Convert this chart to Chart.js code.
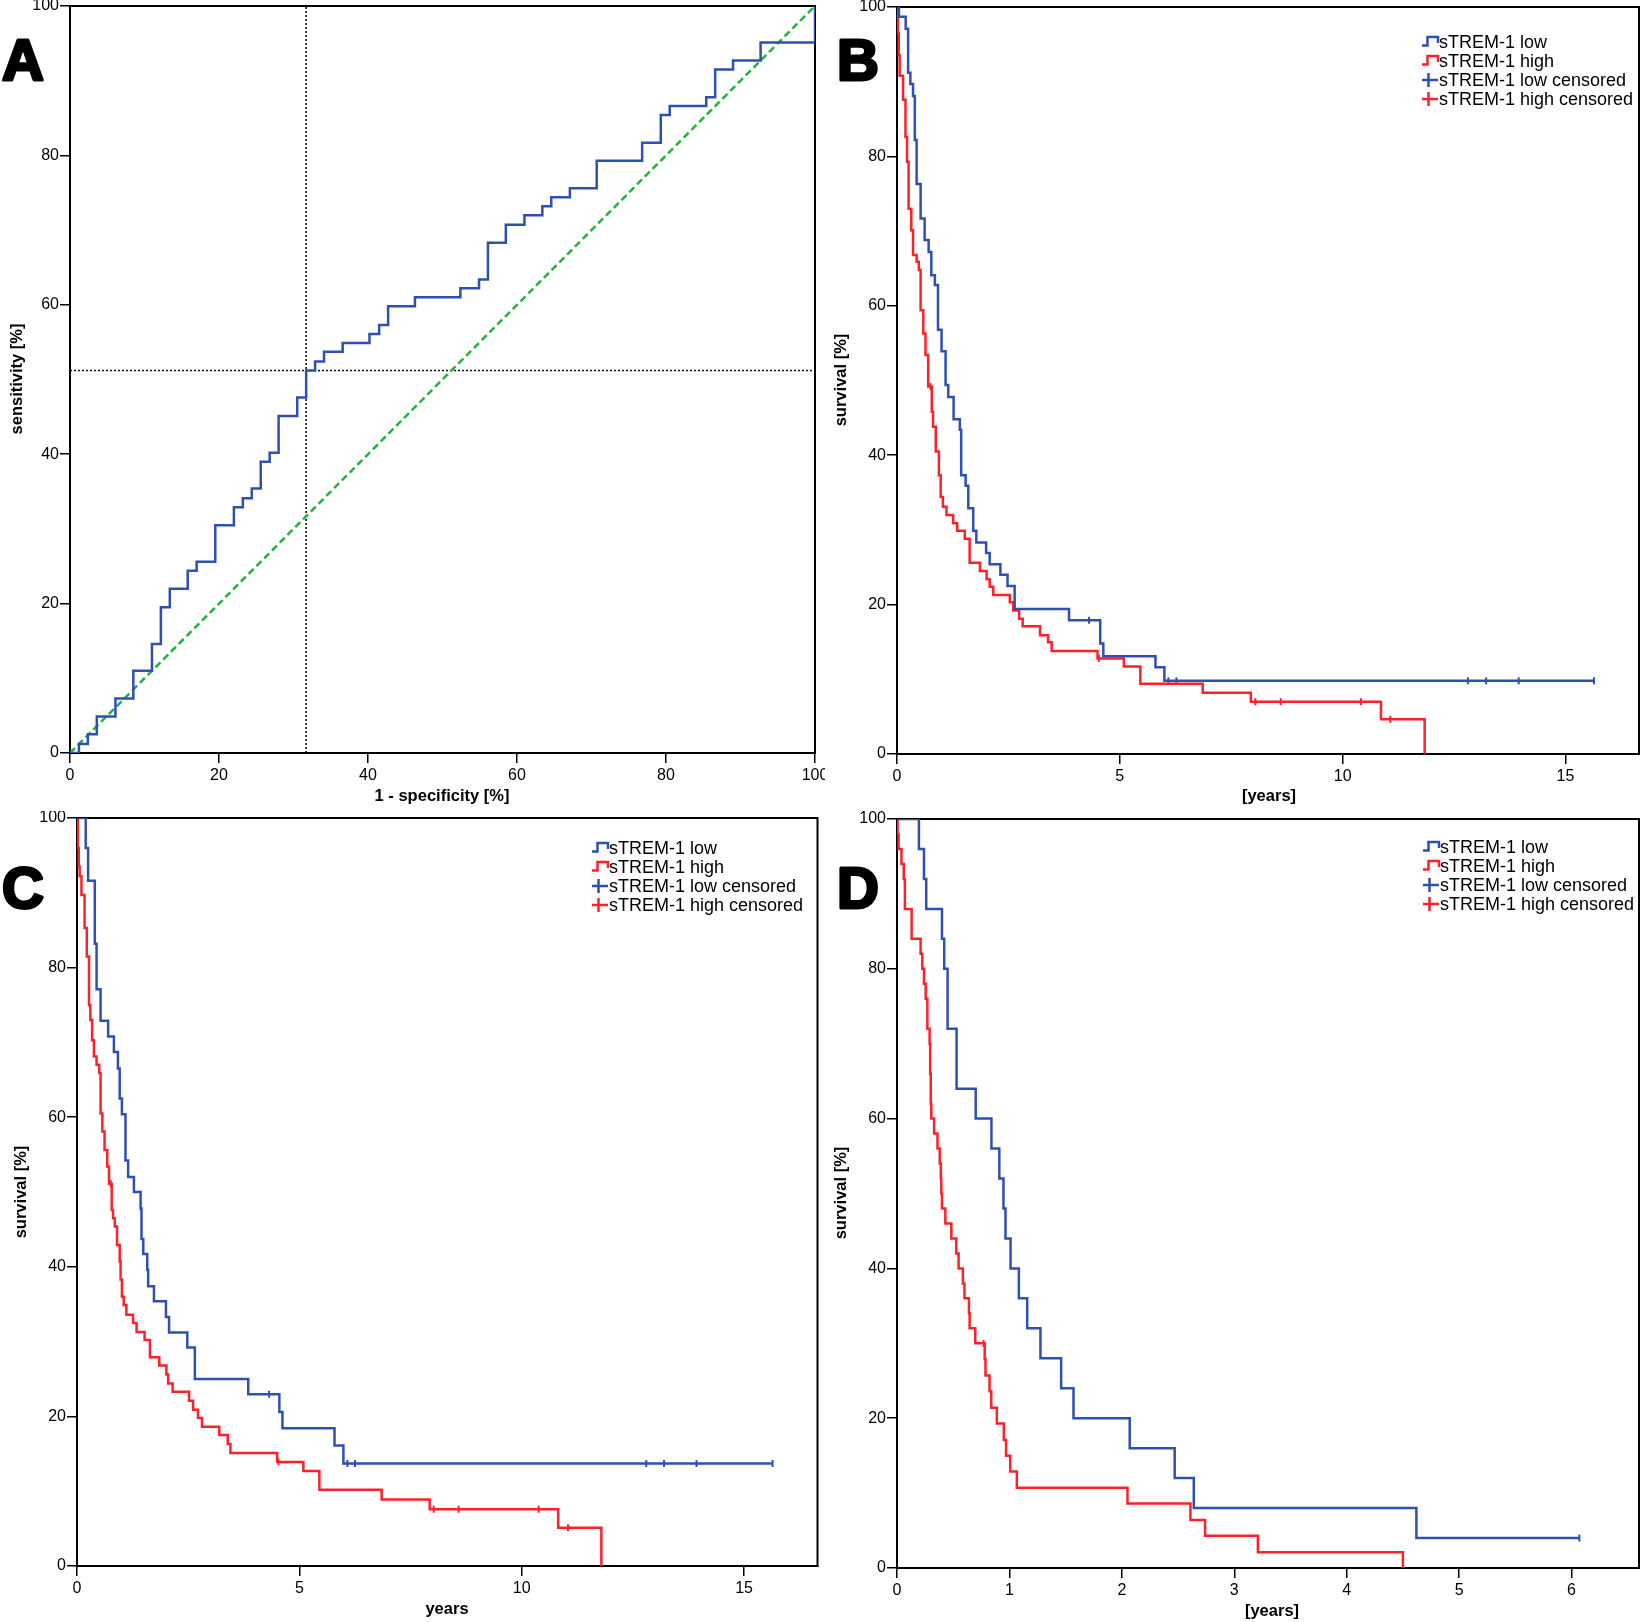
<!DOCTYPE html>
<html>
<head>
<meta charset="utf-8">
<script src="https://cdn.jsdelivr.net/npm/chart.js@4.4.1/dist/chart.umd.min.js"></script>
<style>
  html, body { margin: 0; padding: 0; background: #fff; }
  #wrap { position: relative; width: 1650px; height: 1622px; background: #fff; }
  #wrap canvas { position: absolute; }
</style>
</head>
<body>
<div id="wrap">
  <canvas id="chartA" width="825" height="811" style="left:0;top:0;width:825px;height:811px"></canvas>
  <canvas id="chartB" width="825" height="811" style="left:825px;top:0;width:825px;height:811px"></canvas>
  <canvas id="chartC" width="825" height="811" style="left:0;top:811px;width:825px;height:811px"></canvas>
  <canvas id="chartD" width="825" height="811" style="left:825px;top:811px;width:825px;height:811px"></canvas>
</div>
<script>
// ---- data ----

// A: ROC curve, [1 - specificity %, sensitivity %]
var rocSteps = [[0,0],[1.2,1.2],[2.4,2.5],[3.6,4.9],[6.1,7.3],[8.5,11.0],[11.0,14.6],[12.2,19.5],
  [13.4,22.0],[15.8,24.4],[17.0,25.6],[19.5,30.5],[22.0,32.9],[23.2,34.1],[24.4,35.4],[25.6,39.0],
  [26.8,40.2],[28.0,45.1],[30.5,47.6],[31.7,51.2],[32.9,52.4],[34.1,53.7],[36.6,54.9],[40.2,56.1],
  [41.5,57.3],[42.7,59.8],[46.3,61.0],[52.4,62.2],[54.9,63.4],[56.1,68.3],[58.5,70.7],[61.0,72.0],
  [63.4,73.2],[64.6,74.4],[67.1,75.6],[70.7,79.3],[76.8,81.7],[79.3,85.4],[80.5,86.6],[85.4,87.8],
  [86.6,91.5],[89.0,92.7],[92.7,95.1],[100,95.1],[100,100]];
var chanceLine = [[0,0],[100,100]];
var cutoffX = 31.7;
var cutoffY = 51.2;

// B: survival [%] over years
var bLow = [[0,100],[0.045,98.7],[0.195,97.1],[0.25,91.2],[0.30,89.7],[0.36,88.1],[0.40,82.2],[0.44,76.3],
  [0.53,71.7],[0.62,68.8],[0.71,67.2],[0.77,64.1],[0.85,62.8],[0.92,56.8],[1.0,53.9],[1.09,49.4],
  [1.15,47.8],[1.27,44.8],[1.41,43.4],[1.44,37.3],[1.54,35.9],[1.60,32.9],[1.71,29.9],[1.78,28.3],
  [2.0,26.9],[2.08,25.4],[2.32,24.0],[2.48,22.5],[2.64,19.4],[3.86,17.9],[4.56,14.8],[4.63,13.1],
  [5.80,11.6],[6.0,9.8],[15.64,9.8]];
var bHigh = [[0,100],[0.02,96.5],[0.04,93.5],[0.06,90.8],[0.135,87.6],[0.19,82.6],[0.225,79.3],[0.26,73.0],
  [0.32,70.1],[0.36,66.8],[0.44,65.9],[0.49,64.8],[0.53,59.4],[0.59,56.3],[0.64,53.4],[0.70,49.2],
  [0.78,45.8],[0.81,43.8],[0.87,40.5],[0.94,37.3],[0.98,34.4],[1.03,33.1],[1.11,32.0],[1.26,30.9],
  [1.35,29.9],[1.52,28.8],[1.63,25.6],[1.86,24.5],[2.01,23.4],[2.08,22.4],[2.16,21.3],[2.53,20.3],
  [2.61,19.2],[2.74,18.1],[2.82,17.1],[3.21,15.9],[3.39,14.95],[3.47,13.8],[4.50,12.8],[5.09,11.7],
  [5.46,9.4],[6.86,8.2],[7.94,7.0],[10.86,4.64],[11.84,0]];
var bLowCensored = [[4.31,17.9],[6.09,9.8],[6.27,9.8],[12.81,9.8],[13.22,9.8],[13.95,9.8],[15.64,9.8]];
var bHighCensored = [[0.75,49.2],[4.53,12.8],[8.04,7.0],[8.61,7.0],[10.41,7.0],[11.07,4.64]];

// C: survival [%] over years
var cLow = [[0,100],[0.196,96.0],[0.25,91.6],[0.40,83.2],[0.44,77.1],[0.53,72.9],[0.70,70.8],[0.83,68.7],
  [0.92,66.5],[0.96,62.5],[1.01,60.4],[1.09,54.2],[1.15,52.0],[1.28,50.0],[1.43,47.8],[1.45,43.7],
  [1.49,41.7],[1.58,39.6],[1.60,37.4],[1.73,35.4],[2.0,33.3],[2.07,31.2],[2.48,29.2],[2.65,25.0],
  [3.85,22.95],[4.55,20.6],[4.62,18.4],[5.79,16.1],[5.99,13.7],[15.64,13.7]];
var cHigh = [[0,100],[0.02,96.0],[0.04,93.5],[0.06,92.2],[0.10,89.7],[0.17,85.3],[0.22,81.5],[0.27,75.0],
  [0.30,73.0],[0.34,70.3],[0.38,68.1],[0.44,67.0],[0.50,65.9],[0.53,60.5],[0.57,58.1],[0.62,55.6],
  [0.68,53.4],[0.72,51.1],[0.78,47.6],[0.81,46.5],[0.85,45.4],[0.90,42.9],[0.96,40.7],[0.98,38.3],
  [1.01,36.0],[1.05,34.9],[1.11,33.6],[1.26,32.5],[1.34,31.3],[1.52,30.2],[1.64,27.9],[1.85,26.8],
  [2.01,25.6],[2.05,24.4],[2.15,23.3],[2.52,22.1],[2.61,20.9],[2.72,19.8],[2.81,18.6],[3.20,17.5],
  [3.39,16.3],[3.45,15.1],[4.50,13.9],[5.09,12.7],[5.45,10.2],[6.85,8.9],[7.93,7.6],[10.82,5.1],[11.79,0]];
var cLowCensored = [[4.32,22.95],[6.08,13.7],[6.25,13.7],[12.8,13.7],[13.2,13.7],[13.93,13.7],[15.64,13.7]];
var cHighCensored = [[0.76,51.1],[4.53,13.9],[8.02,7.6],[8.58,7.6],[10.38,7.6],[11.04,5.1]];

// D: survival [%] over years
var dLow = [[0,100],[0.195,96],[0.24,92],[0.26,88],[0.40,84],[0.42,80],[0.45,72],[0.53,64],[0.70,60],
  [0.84,56],[0.91,52],[0.947,48],[0.965,44],[1.01,40],[1.084,36],[1.158,32],[1.276,28],[1.46,24],
  [1.57,20],[2.07,16],[2.47,12],[2.64,8],[4.62,4],[6.07,4]];
var dHigh = [[0,100],[0.005,98],[0.014,96],[0.04,94],[0.06,92],[0.07,88],[0.13,84],[0.21,82],[0.225,80],
  [0.24,78],[0.255,76],[0.27,72],[0.29,70],[0.295,66],[0.30,62],[0.305,60],[0.33,58],[0.36,56],
  [0.38,54],[0.39,52],[0.394,50],[0.40,48],[0.43,46],[0.483,44],[0.527,42],[0.548,40],[0.586,38],
  [0.60,36],[0.64,34],[0.646,32],[0.696,30],[0.78,27.9],[0.787,25.7],[0.823,23.6],[0.838,21.4],
  [0.888,19.3],[0.95,17.1],[0.97,15.0],[1.007,12.9],[1.066,10.7],[2.05,8.6],[2.61,6.4],[2.74,4.3],
  [3.21,2.1],[4.50,0]];
var dLowCensored = [[6.07,4]];
var dHighCensored = [[0.77,30]];

var groupNames = ['sTREM-1 low', 'sTREM-1 high', 'sTREM-1 low censored', 'sTREM-1 high censored'];

// ---- styling ----
var BLUE = '#2f4fb3';
var RED = '#fe2129';
var GREEN = '#22b33c';

Chart.defaults.font.family = "'Liberation Sans', Arial, sans-serif";
Chart.defaults.color = '#000';

function pts(arr) {
    return arr.map(function (p) { return { x: p[0], y: p[1] }; });
}

function stepLine(label, data, color) {
    return {
        label: label, data: pts(data), showLine: true, stepped: 'before',
        borderColor: color, backgroundColor: color, borderWidth: 2.5,
        pointRadius: 0, pointHoverRadius: 0, fill: false
    };
}

function plainLine(label, data, color, width, dash) {
    return {
        label: label, data: pts(data), showLine: true,
        borderColor: color, backgroundColor: color, borderWidth: width, borderDash: dash,
        pointRadius: 0, pointHoverRadius: 0, fill: false
    };
}

function censorMarks(label, data, color) {
    return {
        label: label, data: pts(data), showLine: false,
        borderColor: color, backgroundColor: color, borderWidth: 2,
        pointStyle: 'line', rotation: 90, pointRadius: 3.5, pointHoverRadius: 3.5
    };
}

function scales(box) {
    return {
        x: {
            type: 'linear', min: 0, max: box.xMax,
            ticks: { stepSize: box.xStep, includeBounds: false, autoSkip: false, maxRotation: 0,
                     padding: 3, color: '#000', font: { size: 16 } },
            grid: { drawOnChartArea: false, drawTicks: true, tickLength: 10, color: '#000', lineWidth: 1.5 },
            border: { display: true, color: '#000', width: 2 },
            afterFit: function (s) { s.height = box.xh; s.paddingLeft = 0; s.paddingRight = 0; }
        },
        y: {
            type: 'linear', min: 0, max: 100,
            ticks: { stepSize: 20, autoSkip: false, padding: 1, color: '#000', font: { size: 16 } },
            grid: { drawOnChartArea: false, drawTicks: true, tickLength: 10, color: '#000', lineWidth: 1.5 },
            border: { display: true, color: '#000', width: 2 },
            afterFit: function (s) { s.width = box.yw; s.paddingTop = 0; s.paddingBottom = 0; }
        }
    };
}

// frame, panel letter, axis titles and legend
function decor(d) {
    return {
        id: 'decor',
        beforeDatasetsDraw: function (chart) {
            var ctx = chart.ctx, a = chart.chartArea;
            ctx.save();
            ctx.strokeStyle = '#000';
            ctx.lineWidth = 2;
            ctx.strokeRect(a.left, a.top, a.right - a.left, a.bottom - a.top);
            ctx.restore();
        },
        afterDraw: function (chart) {
            var ctx = chart.ctx;
            ctx.save();
            ctx.fillStyle = '#000';
            ctx.strokeStyle = '#000';
            ctx.font = "bold 58px 'Liberation Sans', Arial, sans-serif";
            ctx.textAlign = 'center';
            ctx.textBaseline = 'alphabetic';
            ctx.lineWidth = 3;
            ctx.lineJoin = 'round';
            ctx.strokeText(d.letter[0], d.letter[1], d.letter[2]);
            ctx.fillText(d.letter[0], d.letter[1], d.letter[2]);

            ctx.font = "bold 16.5px 'Liberation Sans', Arial, sans-serif";
            ctx.textBaseline = 'middle';
            ctx.fillText(d.xTitle[0], d.xTitle[1], d.xTitle[2]);
            ctx.save();
            ctx.translate(d.yTitle[1], d.yTitle[2]);
            ctx.rotate(-Math.PI / 2);
            ctx.fillText(d.yTitle[0], 0, 0);
            ctx.restore();

            if (d.legend) {
                ctx.font = "18px 'Liberation Sans', Arial, sans-serif";
                ctx.textAlign = 'left';
                ctx.lineWidth = 2.5;
                ctx.lineJoin = 'miter';
                chart.data.datasets.forEach(function (ds, i) {
                    var y = d.legend.y + i * d.legend.dy, x0 = d.legend.x;
                    ctx.strokeStyle = ds.borderColor;
                    ctx.beginPath();
                    if (ds.showLine) {
                        ctx.moveTo(x0, y + 3.5);
                        ctx.lineTo(x0 + 5.5, y + 3.5);
                        ctx.lineTo(x0 + 5.5, y - 5);
                        ctx.lineTo(x0 + 16, y - 5);
                        ctx.lineTo(x0 + 16, y + 1);
                    } else {
                        ctx.moveTo(x0, y);
                        ctx.lineTo(x0 + 16, y);
                        ctx.moveTo(x0 + 6.5, y - 7);
                        ctx.lineTo(x0 + 6.5, y + 7);
                    }
                    ctx.stroke();
                    ctx.fillStyle = '#000';
                    ctx.fillText(ds.label, x0 + 17, y + 1);
                });
            }
            ctx.restore();
        }
    };
}

function makePanel(id, datasets, box, d) {
    var ctx = document.getElementById(id).getContext('2d');
    return new Chart(ctx, {
        type: 'scatter',
        data: { datasets: datasets },
        options: {
            responsive: false,
            animation: false,
            events: [],
            layout: { padding: { top: box.top, right: box.right, left: 0, bottom: 0 } },
            plugins: { legend: { display: false }, tooltip: { enabled: false }, title: { display: false } },
            scales: scales(box)
        },
        plugins: [decor(d)]
    });
}

function kmSets(low, high, lowC, highC) {
    return [
        stepLine(groupNames[0], low, BLUE),
        stepLine(groupNames[1], high, RED),
        censorMarks(groupNames[2], lowC, BLUE),
        censorMarks(groupNames[3], highC, RED)
    ];
}

makePanel('chartA', [
    stepLine('ROC', rocSteps, BLUE),
    plainLine('reference', chanceLine, GREEN, 2.5, [7, 4]),
    plainLine('cutoff x', [[cutoffX, 0], [cutoffX, 100]], '#000', 1.5, [2, 2]),
    plainLine('cutoff y', [[0, cutoffY], [100, cutoffY]], '#000', 1.5, [2, 2])
], { xMax: 100, xStep: 20, yw: 70, xh: 58, top: 6, right: 10 }, {
    letter: ['A', 23, 80],
    xTitle: ['1 - specificity [%]', 442, 796],
    yTitle: ['sensitivity [%]', 17, 379]
});

makePanel('chartB', kmSets(bLow, bHigh, bLowCensored, bHighCensored),
    { xMax: 16.65, xStep: 5, yw: 72, xh: 57, top: 7, right: 11 }, {
    letter: ['B', 33, 80],
    xTitle: ['[years]', 444, 796],
    yTitle: ['survival [%]', 16, 380],
    legend: { x: 597, y: 42, dy: 19 }
});

makePanel('chartC', kmSets(cLow, cHigh, cLowCensored, cHighCensored),
    { xMax: 16.65, xStep: 5, yw: 77, xh: 56, top: 7, right: 7.5 }, {
    letter: ['C', 23, 97],
    xTitle: ['years', 447, 798],
    yTitle: ['survival [%]', 21, 381],
    legend: { x: 592, y: 37, dy: 19 }
});

makePanel('chartD', kmSets(dLow, dHigh, dLowCensored, dHighCensored),
    { xMax: 6.6, xStep: 1, yw: 72, xh: 54, top: 8, right: 11 }, {
    letter: ['D', 33, 97],
    xTitle: ['[years]', 447, 800],
    yTitle: ['survival [%]', 16, 382],
    legend: { x: 598, y: 36, dy: 19 }
});
</script>
</body>
</html>
